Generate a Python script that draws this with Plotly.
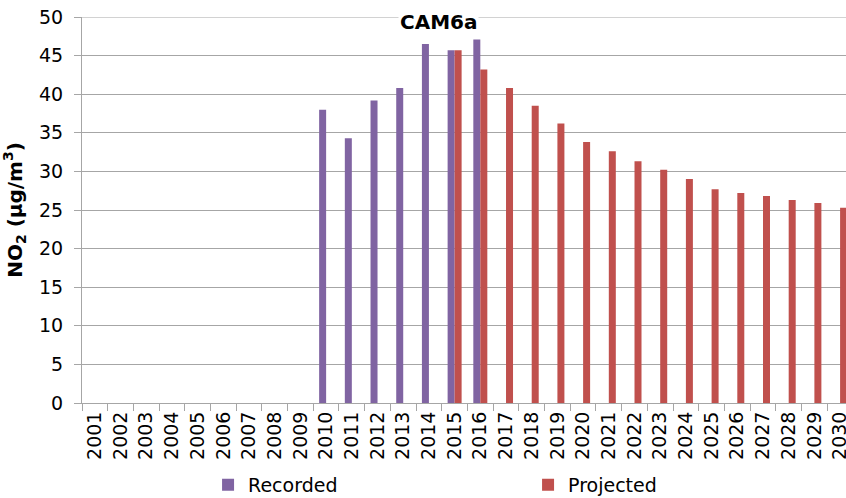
import plotly.graph_objects as go

years = [str(y) for y in range(2001, 2031)]
recorded = [None]*9 + [38.0, 34.3, 39.2, 40.8, 46.5, 45.7, 47.1] + [None]*14
projected = [None]*14 + [45.7, 43.2, 40.8, 38.5, 36.2, 33.8, 32.6, 31.3, 30.2,
                         29.0, 27.7, 27.2, 26.8, 26.3, 25.9, 25.3]
y_ticks = list(range(0, 51, 5))
y_max = 50

PURPLE = "#8064A2"
RED = "#C0504D"
GRID = "#a6a6a6"
FONT = "DejaVu Sans"

fig = go.Figure()
fig.add_trace(go.Bar(x=years, y=recorded, name="Recorded", marker_color=PURPLE,
                     marker_line_width=0))
fig.add_trace(go.Bar(x=years, y=projected, name="Projected", marker_color=RED,
                     marker_line_width=0))

fig.update_layout(
    width=846, height=498,
    margin=dict(l=82, r=0, t=17, b=95, autoexpand=False),
    paper_bgcolor="white", plot_bgcolor="white",
    barmode="group", bargap=0.455, bargroupgap=0,
    font=dict(family=FONT, size=19, color="black"),
    showlegend=True,
    legend=dict(orientation="h", x=0.165, xanchor="left", y=-0.212, yanchor="middle",
                entrywidth=275, entrywidthmode="pixels",
                font=dict(family=FONT, size=19, color="black"),
                bgcolor="rgba(0,0,0,0)", itemclick=False, traceorder="normal"),
    # top gridline (plotly clips gridlines at the range end)
    shapes=[dict(type="line", xref="paper", x0=0, x1=1, yref="y", y0=y_max, y1=y_max,
                 line=dict(color=GRID, width=1), layer="below")],
    annotations=[dict(text="<b>CAM6a</b>", xref="paper", yref="paper",
                      x=0.466, y=0.986, xanchor="center", yanchor="middle",
                      showarrow=False, bgcolor="white",
                      font=dict(family=FONT, size=20, color="black"))],
)

fig.update_xaxes(
    type="category", range=[-0.5, 29.23],
    tickangle=-90, tickson="boundaries", ticks="outside", ticklen=7,
    tickcolor=GRID, showline=True, linecolor=GRID, linewidth=1,
    showgrid=False, ticklabeloverflow="allow",
    tickfont=dict(family=FONT, size=19, color="black"),
)
fig.update_yaxes(
    range=[0, y_max], tickvals=y_ticks, ticks="outside", ticklen=7, tickcolor=GRID,
    showline=True, linecolor=GRID, linewidth=1, mirror=False,
    showgrid=True, gridcolor=GRID, gridwidth=1, zeroline=False,
    ticklabelstandoff=7, ticklabeloverflow="allow",
    tickfont=dict(family=FONT, size=19, color="black"),
    title=dict(text="<b>NO<sub>2</sub> (µg/m<sup>3</sup>)</b>", standoff=11,
               font=dict(family=FONT, size=20, color="black")),
)

fig.write_html(
    "out.html",
    config={"displayModeBar": False},
    post_script="document.body.style.margin='0';document.body.style.overflow='hidden';",
)
